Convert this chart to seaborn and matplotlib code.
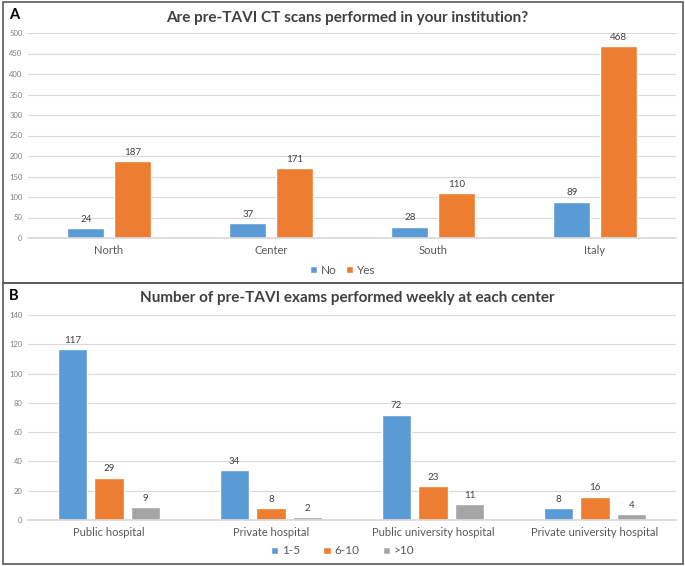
import matplotlib
matplotlib.use("Agg")
import matplotlib.pyplot as plt
import seaborn as sns
import pandas as pd
from matplotlib.patches import Rectangle

regions = ["North", "Center", "South", "Italy"]
ct_no = [24, 37, 28, 89]
ct_yes = [187, 171, 110, 468]
ct_answers = ["No", "Yes"]

centers = ["Public hospital", "Private hospital", "Public university hospital", "Private university hospital"]
ex_1_5 = [117, 34, 72, 8]
ex_6_10 = [29, 8, 23, 16]
ex_gt10 = [9, 2, 11, 4]
ex_groups = ["1-5", "6-10", ">10"]

title_a = "Are pre-TAVI CT scans performed in your institution?"
title_b = "Number of pre-TAVI exams performed weekly at each center"

sns.set_theme(style="white")
plt.rcParams['font.family'] = ['Lato', 'DejaVu Sans']

blue, orange, gray = "#5B9BD5", "#ED7D31", "#A5A5A5"

dfa = pd.DataFrame({"region": regions * 2,
                    "answer": [ct_answers[0]] * 4 + [ct_answers[1]] * 4,
                    "count": ct_no + ct_yes})
dfb = pd.DataFrame({"center": centers * 3,
                    "group": [ex_groups[0]] * 4 + [ex_groups[1]] * 4 + [ex_groups[2]] * 4,
                    "count": ex_1_5 + ex_6_10 + ex_gt10})

W, H = 685, 566
fig = plt.figure(figsize=(W / 100, H / 100), dpi=100)

def fx(px):
    return px / W

def fy(py):
    return 1 - py / H

# panel borders
for (top, bot) in [(2, 283), (283, 564)]:
    fig.add_artist(Rectangle((fx(3), fy(bot)), fx(680), (bot - top) / H,
                             transform=fig.transFigure, fill=False,
                             edgecolor="#595959", linewidth=1.2))

def style_ax(ax, ymax, step):
    ax.set_ylim(0, ymax)
    ax.set_yticks(range(0, ymax + 1, step))
    ax.yaxis.grid(True, color="#D9D9D9", linewidth=0.8)
    ax.set_axisbelow(True)
    for s in ["top", "right", "left"]:
        ax.spines[s].set_visible(False)
    ax.spines["bottom"].set_color("#D9D9D9")
    ax.tick_params(axis="y", labelsize=5.5, labelcolor="#7F7F7F", length=0, pad=4)
    ax.tick_params(axis="x", labelsize=8, labelcolor="#595959", length=0, pad=5)
    ax.set_xlabel("")
    ax.set_ylabel("")
    ax.set_xlim(-0.5, 3.5)

# Panel A
axa = fig.add_axes([fx(28), fy(238), fx(648), 205 / H])
sns.barplot(data=dfa, x="region", y="count", hue="answer", palette=[blue, orange],
            width=0.574, gap=0.2, ax=axa, saturation=1)
style_ax(axa, 500, 50)
for c in axa.containers:
    axa.bar_label(c, fontsize=7, color="#404040", padding=3)
axa.legend(loc="center", bbox_to_anchor=(0.5, fy(270)), bbox_transform=fig.transFigure,
           ncol=2, frameon=False,
           fontsize=8.5, handlelength=0.6, handleheight=0.6, handletextpad=0.3,
           columnspacing=0.8, labelcolor="#595959")

# Panel B
axb = fig.add_axes([fx(28), fy(520), fx(648), 205 / H])
sns.barplot(data=dfb, x="center", y="count", hue="group", palette=[blue, orange, gray],
            width=0.676, gap=0.2, ax=axb, saturation=1)
style_ax(axb, 140, 20)
for c in axb.containers:
    axb.bar_label(c, fontsize=7, color="#404040", padding=3)
axb.legend(loc="center", bbox_to_anchor=(0.5, fy(551)), bbox_transform=fig.transFigure,
           ncol=3, frameon=False,
           fontsize=8.5, handlelength=0.6, handleheight=0.6, handletextpad=0.3,
           columnspacing=2.0, labelcolor="#595959")

fig.text(fx(347), fy(18), title_a, ha="center", va="center", fontsize=11,
         fontweight="bold", color="#404040")
fig.text(fx(347), fy(298), title_b, ha="center", va="center", fontsize=11,
         fontweight="bold", color="#404040")
fig.text(fx(9), fy(15), "A", ha="left", va="center", fontsize=10.5, fontweight="bold", color="black")
fig.text(fx(9), fy(296), "B", ha="left", va="center", fontsize=10.5, fontweight="bold", color="black")

fig.savefig("out.png", dpi=100)
